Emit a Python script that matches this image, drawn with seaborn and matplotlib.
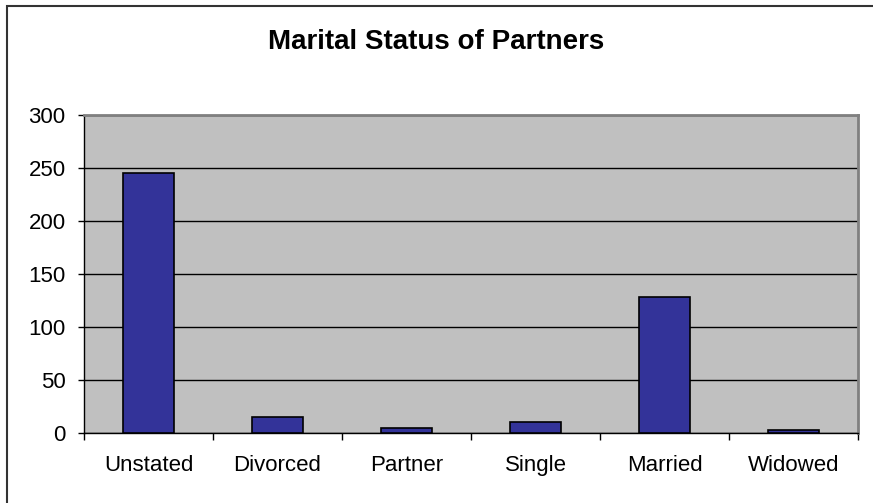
import matplotlib
matplotlib.use("Agg")
import matplotlib.pyplot as plt
import pandas as pd
import seaborn as sns
from matplotlib.patches import Rectangle

categories = ["Unstated", "Divorced", "Partner", "Single", "Married", "Widowed"]
counts = [245, 15, 5, 10, 128, 3]
y_ticks = [0, 50, 100, 150, 200, 250, 300]

df = pd.DataFrame({"status": categories, "count": counts})

sns.set_style("white")
plt.rcParams["font.family"] = ["Liberation Sans", "DejaVu Sans"]
plt.rcParams["text.color"] = "black"
plt.rcParams["xtick.color"] = "black"
plt.rcParams["ytick.color"] = "black"

fig = plt.figure(figsize=(8.73, 5.03), dpi=100)
ax = fig.add_axes([0.0962, 0.1392, 0.8866, 0.632])

sns.barplot(data=df, x="status", y="count", color="#333399", width=0.4,
            edgecolor="black", linewidth=1.2, saturation=1, ax=ax, zorder=3)

ax.set_facecolor("#C0C0C0")
ax.set_ylim(0, 300)
ax.set_xlim(-0.5, len(categories) - 0.5)
ax.set_yticks(y_ticks)
ax.yaxis.grid(True, color="black", linewidth=1)
ax.set_axisbelow(True)
ax.set_xlabel("")
ax.set_ylabel("")

# category separators as minor ticks, labels on major ticks
ax.set_xticks([i - 0.5 for i in range(len(categories) + 1)], minor=True)
ax.tick_params(axis="x", which="major", length=0, labelsize=16, pad=16, labelcolor="black")
ax.tick_params(axis="x", which="minor", length=5, direction="out", width=1, color="black", bottom=True)
ax.tick_params(axis="y", length=4.3, direction="out", width=1, color="black", labelsize=16, pad=9,
               left=True, labelcolor="black")

for side in ["left", "bottom"]:
    ax.spines[side].set_color("black")
    ax.spines[side].set_linewidth(1)
for side in ["top", "right"]:
    ax.spines[side].set_color("#808080")
    ax.spines[side].set_linewidth(2)

fig.text(0.5, 0.916, "Marital Status of Partners", ha="center", va="center",
         fontsize=20, fontweight="bold", color="black")

# chart frame: only top and left edges fall inside the picture
fig.patches.append(Rectangle((0.0075, -0.05), 1.05, 1.038, transform=fig.transFigure,
                             fill=False, edgecolor="#333333", linewidth=1.5))

fig.savefig("out.png", dpi=100)
